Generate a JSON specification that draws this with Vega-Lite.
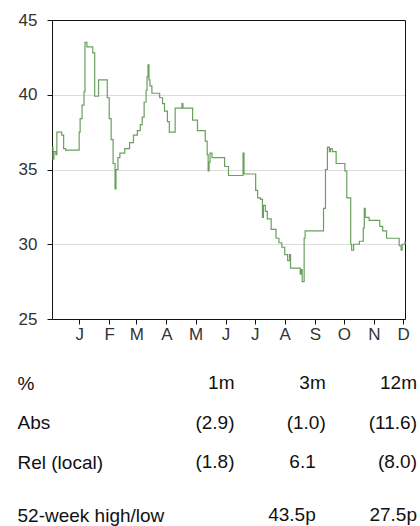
{
  "$schema": "https://vega.github.io/schema/vega-lite/v6.json",
  "padding": {"left": 17, "top": 11, "right": 0, "bottom": 0},
  "background": "white",
  "spacing": 32,
  "config": {"font": "Liberation Sans", "view": {"stroke": null}},
  "datasets": {
    "prices": [
      {"date": "2022-12-04", "price": 36.5},
      {"date": "2022-12-05", "price": 35.7},
      {"date": "2022-12-06", "price": 36.2},
      {"date": "2022-12-08", "price": 36.0},
      {"date": "2022-12-09", "price": 37.5},
      {"date": "2022-12-14", "price": 37.3},
      {"date": "2022-12-16", "price": 36.4},
      {"date": "2022-12-18", "price": 36.3},
      {"date": "2023-01-01", "price": 37.5},
      {"date": "2023-01-02", "price": 38.4},
      {"date": "2023-01-04", "price": 39.3},
      {"date": "2023-01-06", "price": 40.2},
      {"date": "2023-01-07", "price": 43.5},
      {"date": "2023-01-09", "price": 43.2},
      {"date": "2023-01-15", "price": 42.8},
      {"date": "2023-01-17", "price": 39.9},
      {"date": "2023-01-21", "price": 41.0},
      {"date": "2023-01-30", "price": 39.8},
      {"date": "2023-02-01", "price": 38.4},
      {"date": "2023-02-03", "price": 37.0},
      {"date": "2023-02-05", "price": 35.4},
      {"date": "2023-02-07", "price": 33.7},
      {"date": "2023-02-08", "price": 35.0},
      {"date": "2023-02-10", "price": 35.8},
      {"date": "2023-02-12", "price": 36.1},
      {"date": "2023-02-17", "price": 36.4},
      {"date": "2023-02-22", "price": 36.8},
      {"date": "2023-02-26", "price": 37.3},
      {"date": "2023-03-02", "price": 37.6},
      {"date": "2023-03-05", "price": 38.0},
      {"date": "2023-03-07", "price": 38.5},
      {"date": "2023-03-09", "price": 39.5},
      {"date": "2023-03-11", "price": 40.3},
      {"date": "2023-03-12", "price": 41.2},
      {"date": "2023-03-13", "price": 42.0},
      {"date": "2023-03-14", "price": 41.0},
      {"date": "2023-03-15", "price": 40.6},
      {"date": "2023-03-17", "price": 40.1},
      {"date": "2023-03-25", "price": 39.8},
      {"date": "2023-03-28", "price": 39.4},
      {"date": "2023-03-30", "price": 38.9},
      {"date": "2023-04-02", "price": 38.2},
      {"date": "2023-04-04", "price": 37.5},
      {"date": "2023-04-10", "price": 39.1},
      {"date": "2023-04-17", "price": 39.4},
      {"date": "2023-04-18", "price": 39.1},
      {"date": "2023-04-28", "price": 38.3},
      {"date": "2023-05-03", "price": 37.6},
      {"date": "2023-05-11", "price": 36.9},
      {"date": "2023-05-13", "price": 36.0},
      {"date": "2023-05-14", "price": 34.9},
      {"date": "2023-05-15", "price": 35.5},
      {"date": "2023-05-16", "price": 36.1},
      {"date": "2023-05-18", "price": 35.8},
      {"date": "2023-05-31", "price": 35.2},
      {"date": "2023-06-04", "price": 34.6},
      {"date": "2023-06-19", "price": 36.1},
      {"date": "2023-06-20", "price": 34.7},
      {"date": "2023-07-02", "price": 33.6},
      {"date": "2023-07-04", "price": 33.1},
      {"date": "2023-07-07", "price": 33.0},
      {"date": "2023-07-09", "price": 31.8},
      {"date": "2023-07-10", "price": 32.6},
      {"date": "2023-07-12", "price": 32.2},
      {"date": "2023-07-14", "price": 31.7},
      {"date": "2023-07-18", "price": 31.0},
      {"date": "2023-07-23", "price": 30.4},
      {"date": "2023-07-26", "price": 30.1},
      {"date": "2023-07-29", "price": 29.8},
      {"date": "2023-08-01", "price": 29.3},
      {"date": "2023-08-04", "price": 28.9},
      {"date": "2023-08-06", "price": 29.3},
      {"date": "2023-08-07", "price": 28.4},
      {"date": "2023-08-17", "price": 28.0},
      {"date": "2023-08-18", "price": 28.3},
      {"date": "2023-08-19", "price": 27.5},
      {"date": "2023-08-21", "price": 30.4},
      {"date": "2023-08-22", "price": 30.9},
      {"date": "2023-09-10", "price": 32.4},
      {"date": "2023-09-12", "price": 35.0},
      {"date": "2023-09-14", "price": 36.5},
      {"date": "2023-09-16", "price": 36.2},
      {"date": "2023-09-17", "price": 36.4},
      {"date": "2023-09-19", "price": 36.2},
      {"date": "2023-09-23", "price": 35.4},
      {"date": "2023-10-02", "price": 34.9},
      {"date": "2023-10-04", "price": 33.1},
      {"date": "2023-10-08", "price": 30.0},
      {"date": "2023-10-09", "price": 29.6},
      {"date": "2023-10-11", "price": 30.0},
      {"date": "2023-10-17", "price": 30.2},
      {"date": "2023-10-21", "price": 31.1},
      {"date": "2023-10-22", "price": 32.4},
      {"date": "2023-10-23", "price": 31.8},
      {"date": "2023-10-27", "price": 31.6},
      {"date": "2023-11-07", "price": 31.2},
      {"date": "2023-11-10", "price": 30.9},
      {"date": "2023-11-14", "price": 30.4},
      {"date": "2023-11-27", "price": 29.9},
      {"date": "2023-11-29", "price": 29.6},
      {"date": "2023-11-30", "price": 30.0},
      {"date": "2023-12-03", "price": 30.2}
    ],
    "perf": [
      {"row": "%", "col": "1m", "text": "1m"},
      {"row": "%", "col": "3m", "text": "3m"},
      {"row": "%", "col": "12m", "text": "12m"},
      {"row": "Abs", "col": "1m", "text": "(2.9)"},
      {"row": "Abs", "col": "3m", "text": "(1.0)"},
      {"row": "Abs", "col": "12m", "text": "(11.6)"},
      {"row": "Rel (local)", "col": "1m", "text": "(1.8)"},
      {"row": "Rel (local)", "col": "3m", "text": "6.1"},
      {"row": "Rel (local)", "col": "12m", "text": "(8.0)"}
    ],
    "highlow": [
      {"row": "52-week high/low", "col": "3m", "text": "43.5p"},
      {"row": "52-week high/low", "col": "12m", "text": "27.5p"}
    ]
  },
  "vconcat": [
    {
      "width": 353,
      "height": 299,
      "data": {"name": "prices"},
      "layer": [
        {
          "mark": {"type": "line", "interpolate": "step-after", "color": "#6b9f5f", "strokeWidth": 1.2},
          "encoding": {
            "x": {
              "field": "date",
              "type": "temporal",
              "scale": {
                "type": "utc",
                "domain": [
                  {"year": 2022, "month": 12, "date": 4, "utc": true},
                  {"year": 2023, "month": 12, "date": 3, "utc": true}
                ]
              },
              "axis": {
                "title": null,
                "grid": false,
                "tickCount": {"interval": "month", "step": 1},
                "labelExpr": "substring(utcFormat(datum.value, '%b'), 0, 1)",
                "labelFlush": false,
                "labelOverlap": false,
                "labelFontSize": 17,
                "labelColor": "#333",
                "labelPadding": 2,
                "tickSize": 5,
                "tickColor": "#111",
                "domainColor": "#111"
              }
            },
            "y": {
              "field": "price",
              "type": "quantitative",
              "scale": {"domain": [25, 45], "nice": false, "zero": false},
              "axis": {
                "title": null,
                "values": [25, 30, 35, 40, 45],
                "grid": true,
                "gridColor": "#dcdcdc",
                "labelFontSize": 17,
                "labelColor": "#333",
                "labelPadding": 10,
                "tickSize": 5,
                "tickColor": "#111",
                "domainColor": "#111"
              }
            }
          }
        },
        {
          "mark": {"type": "line", "interpolate": "step-after", "opacity": 0},
          "encoding": {
            "x": {
              "field": "date",
              "type": "temporal",
              "axis": {"orient": "top", "title": null, "labels": false, "ticks": false, "grid": false, "domainColor": "#111"}
            },
            "y": {
              "field": "price",
              "type": "quantitative",
              "axis": {"orient": "right", "title": null, "labels": false, "ticks": false, "grid": false, "domainColor": "#111"}
            }
          }
        }
      ],
      "resolve": {"axis": {"x": "independent", "y": "independent"}}
    },
    {
      "width": 365,
      "height": 79,
      "data": {"name": "perf"},
      "encoding": {
        "x": {
          "field": "col",
          "type": "nominal",
          "scale": {"type": "point", "domain": ["1m", "3m", "12m"], "padding": 1.086, "align": 1},
          "axis": null
        },
        "y": {
          "field": "row",
          "type": "nominal",
          "scale": {"type": "point", "domain": ["%", "Abs", "Rel (local)"], "padding": 0},
          "axis": {
            "title": null,
            "domain": false,
            "ticks": false,
            "tickSize": 0,
            "grid": false,
            "labelAlign": "left",
            "labelBaseline": "middle",
            "labelPadding": 35,
            "labelFontSize": 19,
            "labelColor": "#111",
            "labelLimit": 0
          }
        },
        "text": {"field": "text"}
      },
      "layer": [
        {
          "transform": [{"filter": "!(datum.col == '3m' && datum.row != '%' && indexof(datum.text, '(') != 0)"}],
          "mark": {"type": "text", "align": "right", "baseline": "middle", "fontSize": 19, "color": "#111"}
        },
        {
          "transform": [{"filter": "datum.col == '3m' && datum.row != '%' && indexof(datum.text, '(') != 0"}],
          "mark": {"type": "text", "align": "right", "baseline": "middle", "fontSize": 19, "color": "#111", "dx": -10}
        }
      ]
    },
    {
      "width": 365,
      "height": 22,
      "data": {"name": "highlow"},
      "encoding": {
        "x": {
          "field": "col",
          "type": "nominal",
          "scale": {"type": "point", "domain": ["1m", "3m", "12m"], "padding": 1.086, "align": 1},
          "axis": null
        },
        "y": {
          "field": "row",
          "type": "nominal",
          "scale": {"type": "point", "domain": ["52-week high/low"], "padding": 0},
          "axis": {
            "title": null,
            "domain": false,
            "ticks": false,
            "tickSize": 0,
            "grid": false,
            "labelAlign": "left",
            "labelBaseline": "middle",
            "labelPadding": 35,
            "labelFontSize": 19,
            "labelColor": "#111",
            "labelLimit": 0
          }
        },
        "text": {"field": "text"}
      },
      "layer": [
        {
          "transform": [{"filter": "datum.col != '3m'"}],
          "mark": {"type": "text", "align": "right", "baseline": "middle", "fontSize": 19, "color": "#111"}
        },
        {
          "transform": [{"filter": "datum.col == '3m'"}],
          "mark": {"type": "text", "align": "right", "baseline": "middle", "fontSize": 19, "color": "#111", "dx": -10}
        }
      ]
    }
  ]
}
